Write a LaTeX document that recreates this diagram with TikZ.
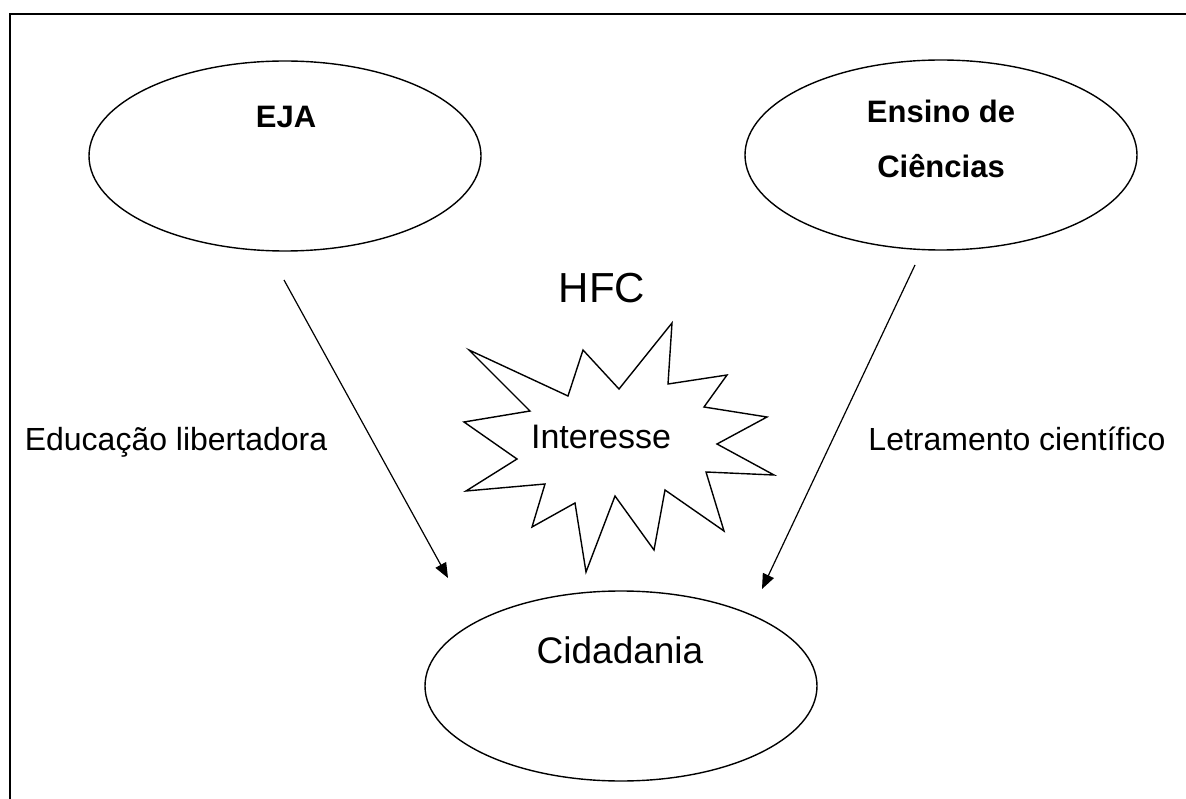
\documentclass[tikz,border=0pt]{standalone}
\usepackage{fontspec}
\setmainfont{Liberation Sans}
\usepackage{tikz}
\usetikzlibrary{shapes.geometric}
\usetikzlibrary{arrows.meta}
\usetikzlibrary{positioning}
\tikzstyle{oval}=[ellipse, draw=black, line width=1.4pt, minimum width=392pt, minimum height=190pt, inner sep=0pt]
\tikzstyle{bigtxt}=[anchor=base, inner sep=0pt, font=\fontsize{32}{38}\selectfont]
\tikzstyle{boldtxt}=[bigtxt, font=\fontsize{31}{37}\selectfont\bfseries]
\tikzstyle{link}=[line width=1.2pt, -{Triangle[length=15pt,width=12pt]}]

\begin{document}
\begin{tikzpicture}[x=1pt,y=-1pt]
              \useasboundingbox (0,0) rectangle (1186,799);
              \draw[line width=2.6pt] (10,799) -- (10,14) -- (1190,14);
              \node[oval] (eja) at (285,156){};
              \node[oval] (ens) at (941,155){};
              \node[oval] (cid) at (621,686){};
              \node[boldtxt] (ejatxt) at (286,128){EJA};
              \node[boldtxt] (ens1) at (941,123){Ensino de};
              \node[boldtxt] (ens2) at (941,178){Ciências};
              \node[bigtxt, font=\fontsize{37}{44}\selectfont] (cidtxt) at (620,663){Cidadania};
              \node[bigtxt, font=\fontsize{42}{50}\selectfont] (hfc) at (602,303){HFC};
              \draw[line width=1.4pt] (469,350) -- (568,396) -- (583,350) -- (619,389)
                -- (672,323) -- (668,384) -- (727,375) -- (704,407) -- (767,417)
                -- (717,444) -- (774,475) -- (706,472) -- (724,531) -- (665,490)
                -- (654,550) -- (615,496) -- (586,572) -- (575,503) -- (532,527)
                -- (545,484) -- (466,491) -- (517,459) -- (464,422) -- (530,411) -- cycle;
              \node[bigtxt, font=\fontsize{34}{40}\selectfont] (int) at (601,448){Interesse};
              \coordinate (a0) at (284,280);
              \coordinate (a1) at (448,578);
              \coordinate (b0) at (915,265);
              \coordinate (b1) at (762,589);
              \draw[link] (a0) -- (a1);
              \draw[link] (b0) -- (b1);
              \node[bigtxt] (lib) at (176,450){Educação libertadora};
              \node[bigtxt] (let) at (1017,450){Letramento científico};
            \end{tikzpicture}
\end{document}
